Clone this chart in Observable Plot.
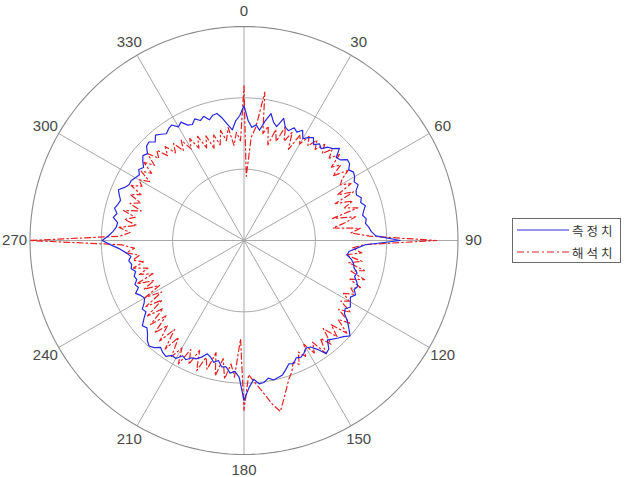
<!DOCTYPE html>
<html>
<head>
<meta charset="utf-8">
<script src="https://cdn.jsdelivr.net/npm/d3@7"></script>
<script src="https://cdn.jsdelivr.net/npm/@observablehq/plot@0.6"></script>
<style>
  html, body { margin: 0; padding: 0; background: #fff; }
  #wrap { position: relative; width: 632px; height: 477px; overflow: hidden; }
  #legend { position: absolute; left: 512px; top: 218px; width: 109px; height: 45px;
    border: 1px solid #6a6a6a; background: #fff; box-sizing: border-box;
    font-family: "Noto Sans CJK KR", sans-serif; font-size: 12.5px; color: #333; }
  .row { position: absolute; left: 4px; height: 16px; display: flex; align-items: center; }
  .row span { margin-left: 3px; letter-spacing: 3px; }
</style>
</head>
<body>
<div id="wrap">
  <div id="chart"></div>
  <div id="legend">
    <div class="row" style="top:3px"><svg width="52" height="6"><line x1="0" y1="3" x2="52" y2="3" stroke="#2a2ae0" stroke-width="1.2"/></svg><span>측정치</span></div>
    <div class="row" style="top:25px"><svg width="52" height="6"><line x1="0" y1="3" x2="52" y2="3" stroke="#e02020" stroke-width="1.2" stroke-dasharray="7,3,2,3"/></svg><span>해석치</span></div>
  </div>
</div>
<script>
// angle tick labels (degrees, clockwise from top)
const angleTicks = [0, 30, 60, 90, 120, 150, 180, 210, 240, 270, 300, 330];
const ringValues = [10, 20, 30];
const rMax = 30;

// measured (측정치), every 2 degrees from 0 to 358
const measuredAngles = d3.range(0, 360, 2);
const measured = [
18.9,16.8,15.9,16.3,15.6,17.0,18.2,17.1,16.6,18.0,
16.9,16.6,17.3,16.9,17.5,16.5,17.0,17.4,16.6,17.2,
16.8,17.6,17.9,18.6,17.4,17.6,18.4,18.3,17.7,18.1,
17.9,17.5,17.8,17.2,17.0,17.5,17.2,17.7,17.3,17.0,
17.4,17.2,17.6,17.9,18.5,21.9,17.0,15.8,14.8,14.6,
15.3,15.7,15.9,16.5,16.3,16.8,17.2,16.9,17.4,16.9,
17.2,17.6,17.1,17.4,18.4,19.2,20.0,19.4,19.0,18.6,
18.2,19.3,19.6,18.4,17.6,17.4,17.9,18.2,18.0,18.6,
18.4,19.0,19.6,19.8,20.0,19.6,20.1,20.2,19.5,20.6,
22.4,19.2,18.4,18.7,17.9,18.0,17.2,17.6,17.0,16.7,
17.4,17.9,18.0,18.6,18.3,19.1,19.0,19.6,19.4,19.0,
19.6,19.9,19.5,18.8,18.3,18.6,17.8,17.0,17.2,16.5,
16.1,16.4,16.9,16.2,16.5,16.0,16.2,15.8,16.3,16.1,
16.4,16.0,16.6,17.4,18.6,19.9,19.0,18.4,18.0,17.9,
18.6,18.2,18.7,18.4,18.2,18.6,19.0,18.3,17.9,17.9,
17.6,17.3,17.8,17.4,18.0,18.5,18.2,19.0,19.2,18.6,
19.3,18.9,18.5,18.9,19.1,18.4,18.8,18.0,17.8,18.4,
17.9,18.3,17.6,18.1,18.2,17.4,16.4,15.6,16.8,17.5
];

// analysis (해석치), every 2 degrees from 0 to 358
const analysisAngles = d3.range(0, 360, 2);
const analysis = [
21.7,9.0,14.5,16.0,21.0,15.2,16.4,13.8,16.2,14.6,
17.0,15.0,16.6,14.2,16.8,15.6,17.2,16.0,17.4,16.2,
17.6,16.4,17.8,16.6,18.0,16.0,17.2,15.4,17.6,16.2,
15.6,17.0,14.6,16.8,13.8,16.2,14.8,16.6,12.8,16.0,
14.4,12.6,16.4,15.0,17.6,27.0,16.8,15.2,16.6,14.4,
16.8,15.0,17.4,15.6,17.8,15.8,17.6,16.4,17.2,15.8,
17.0,16.0,18.0,16.4,18.8,17.2,19.4,17.0,18.8,16.6,
19.0,17.4,19.6,17.2,18.6,16.8,18.4,17.4,19.0,18.4,
19.6,20.4,21.6,23.0,24.5,23.4,22.0,20.8,19.8,18.8,
23.8,13.8,19.2,17.4,19.6,16.8,19.4,16.2,18.8,17.2,
19.4,16.6,19.0,17.0,19.6,17.4,19.2,16.4,18.8,15.8,
18.4,16.0,18.0,15.2,17.6,14.8,17.2,14.2,16.6,13.6,
16.0,13.4,15.6,13.8,16.2,13.6,15.4,14.0,16.0,14.4,
15.8,14.8,16.6,15.4,17.2,30.0,17.4,16.0,17.6,15.2,
17.0,15.6,17.4,15.0,16.8,15.4,17.2,15.8,17.6,16.2,
17.0,15.6,17.4,16.0,17.8,16.4,18.2,16.6,17.6,16.0,
17.2,15.6,16.8,15.2,16.6,14.8,16.2,14.4,16.0,14.0,
15.6,13.6,15.4,13.8,15.8,14.2,16.0,13.4,15.2,14.0
];

const rad = Math.PI / 180;
const toX = (a, r) => r * Math.sin(a * rad);
const toY = (a, r) => r * Math.cos(a * rad);

function series(angles, values) {
  const rows = angles.map((a, i) => ({a, r: values[i]}));
  rows.push({a: 360, r: values[0]});
  return rows;
}
const measuredRows = series(measuredAngles, measured);
const analysisRows = series(analysisAngles, analysis);

const ringRows = ringValues.flatMap(r => d3.range(0, 361, 2).map(a => ({ring: r, a, r})));

const W = 632, H = 477, cx = 243.5, cy = 240, R = 214;
const k = R / rMax;

const chart = Plot.plot({
  width: W, height: H, margin: 0,
  x: {domain: [-cx / k, (W - cx) / k], axis: null},
  y: {domain: [-(H - cy) / k, cy / k], axis: null},
  marks: [
    Plot.link(angleTicks, {x1: 0, y1: 0, x2: a => toX(a, rMax), y2: a => toY(a, rMax), stroke: "#a8a8a8", strokeWidth: 1}),
    Plot.line(ringRows.filter(d => d.ring < rMax), {x: d => toX(d.a, d.r), y: d => toY(d.a, d.r), z: "ring", stroke: "#a8a8a8", strokeWidth: 1}),
    Plot.line(ringRows.filter(d => d.ring === rMax), {x: d => toX(d.a, d.r), y: d => toY(d.a, d.r), stroke: "#8a8a8a", strokeWidth: 1.1}),
    Plot.line(analysisRows, {x: d => toX(d.a, d.r), y: d => toY(d.a, d.r), stroke: "#e82020", strokeWidth: 1.2, strokeDasharray: "6,3,1.5,3"}),
    Plot.line(measuredRows, {x: d => toX(d.a, d.r), y: d => toY(d.a, d.r), stroke: "#2828e0", strokeWidth: 1.2}),
    Plot.text(angleTicks, {x: a => toX(a, rMax * 1.072), y: a => toY(a, rMax * 1.072), text: a => String(a),
      fontSize: 15, fill: "#484848", fontFamily: "Liberation Sans, Arial, sans-serif", textAnchor: "middle", lineAnchor: "middle"})
  ]
});
document.getElementById("chart").appendChild(chart);
</script>
</body>
</html>
